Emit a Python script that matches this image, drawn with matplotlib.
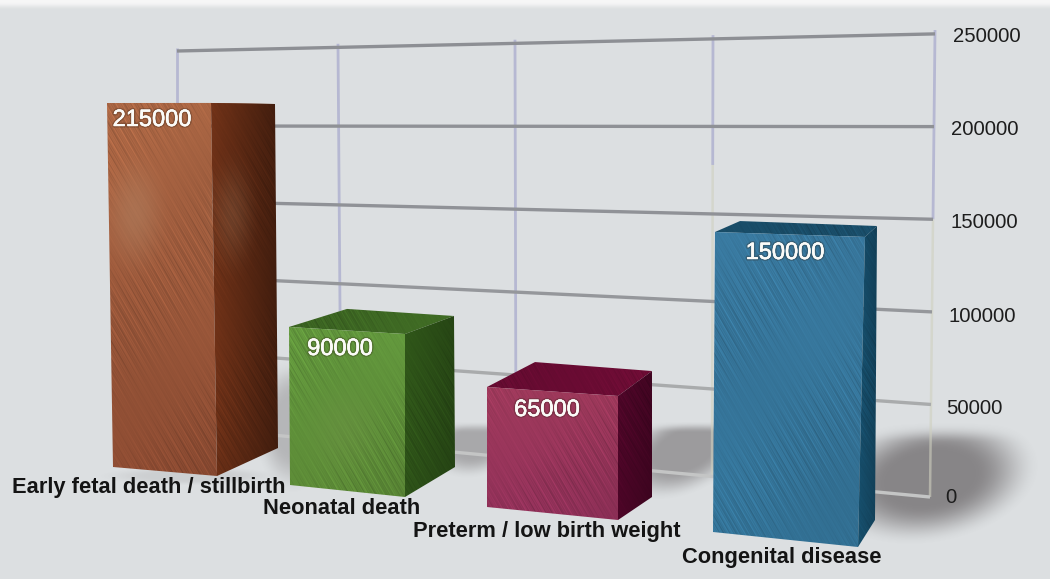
import numpy as np
import matplotlib
matplotlib.use("Agg")
import matplotlib.pyplot as plt
from matplotlib.patches import Polygon
from matplotlib.colors import to_rgb
import matplotlib.patheffects as pe

# ---- data
categories = ["Early fetal death / stillbirth", "Neonatal death",
              "Preterm / low birth weight", "Congenital disease"]
values = [215000, 90000, 65000, 150000]
axis_ticks = [0, 50000, 100000, 150000, 200000, 250000]

# ---- perspective layout (pixels): floor corners and pixels-per-unit at each corner
W, H = 1050, 579
floor_left = [(113, 467), (290, 485), (487, 507), (713, 532)]
floor_corner = [(217, 476), (405, 497), (618, 520), (858, 547)]
floor_right = [(278, 448), (455, 467), (652, 497), (875, 520)]
scale_left = [1.693e-3, 1.756e-3, 1.846e-3, 2.0e-3]
scale_corner = [1.735e-3, 1.811e-3, 1.908e-3, 2.067e-3]
scale_right = [1.6e-3, 1.678e-3, 1.938e-3, 1.96e-3]
lean = [(-6, -6, -3), (-1, 0, -1), (0, 0, 0), (2, 7, 2)]
back_dx = [0, 9, 14, 13]
front_top = ["#ad6845", "#649a3e", "#a03a5c", "#39799f"]
front_bot = ["#8c4b32", "#5b8836", "#8f3058", "#337296"]
side_col = ["#703218", "#2f5519", "#4e0628", "#17506e"]
side_dark = [0.58, 0.8, 0.8, 0.8]
top_col = ["#7a3f22", "#3f6a24", "#6c0c34", "#1a4f6b"]
value_pos = [(152, 120), (340, 349), (547, 410), (785, 253)]
cat_pos = [(12, 487), (263, 509), (413, 531), (682, 558)]
wall_x_top = [177, 338, 515, 713, 935]
wall_x_bot = [177, 341, 516, 712, 930]
wall_split = [None, None, None, 178000, 150000]
tick_x = [945, 946, 949, 950, 951, 953]
tick_y = [497.5, 408.5, 316.5, 222.5, 129.5, 36.5]
line_cols = ["#c4c5c5", "#a9abac", "#95979b", "#909297", "#8f9196", "#8d8f94"]
shadows = [(293, 425, 40, 70, 0, 0.30, 350, 30), (475, 442, 50, 36, 15, 0.40, 421, 12),
           (685, 450, 75, 44, 25, 0.50, 421, 12), (930, 478, 112, 66, 10, 0.66, 421, 22),
           (190, 476, 95, 10, 0, 0.12, 421, 1)]
patches_light = [(0, 135, 215, 38, 70, 0.26), (0, 232, 215, 30, 70, 0.18),
                 (1, 345, 430, 50, 60, 0.06), (2, 555, 480, 50, 30, -0.08)]

plt.rcParams["font.family"] = ["Liberation Sans", "DejaVu Sans"]
fig = plt.figure(figsize=(W / 100, H / 100), dpi=100)
ax = fig.add_axes([0, 0, 1, 1])
ax.set_axis_off()

yy, xx = np.mgrid[0:H, 0:W] + 0.5


def smooth(a):
    a = np.clip(a, 0, 1)
    return a * a * (3 - 2 * a)


# ---- background
bg = np.ones((H, W, 3)) * np.array(to_rgb("#dcdfe1"))
bg += (smooth((10 - yy) / 8)[..., None]) * (np.array([0.965, 0.965, 0.965]) - np.array(to_rgb("#dcdfe1")))
ax.imshow(bg, extent=(0, W, H, 0), aspect="auto", zorder=0, interpolation="bilinear")

# ---- soft floor shadows
alpha = np.zeros((H, W))
for cx, cy, rx, ry, ang, a, ycut, ramp in shadows:
    t = np.radians(ang)
    dx = xx - cx
    dy = yy - cy
    u = dx * np.cos(t) - dy * np.sin(t)
    v = dx * np.sin(t) + dy * np.cos(t)
    r = np.sqrt((u / rx) ** 2 + (v / ry) ** 2)
    s = a * smooth((1 - r) / 0.6) * smooth((yy - ycut) / ramp)
    alpha = 1 - (1 - alpha) * (1 - s)
rgba = np.zeros((H, W, 4))
rgba[..., :3] = to_rgb("#5c5759")
rgba[..., 3] = alpha
ax.imshow(rgba, extent=(0, W, H, 0), aspect="auto", zorder=1, interpolation="bilinear")


# ---- back wall grid
def wall_y(x, v):
    left = 426 - v * 0.0015
    right = 497 - v * 0.001852
    f = (x - 177) / (930 - 177)
    return left + (right - left) * f


def wall_x(i, v):
    f = v / max(axis_ticks)
    return wall_x_bot[i] + (wall_x_top[i] - wall_x_bot[i]) * f


top_val = max(axis_ticks)
for i in range(len(wall_x_top)):
    sp = wall_split[i]
    vtop = top_val * 1.004
    if sp is None:
        ax.plot([wall_x(i, 0), wall_x(i, vtop)],
                [wall_y(wall_x(i, 0), 0), wall_y(wall_x(i, vtop), vtop) - 2],
                color="#b6b8d2", lw=2.0, zorder=2, solid_capstyle="butt")
    else:
        ax.plot([wall_x(i, sp), wall_x(i, vtop)],
                [wall_y(wall_x(i, sp), sp), wall_y(wall_x(i, vtop), vtop) - 2],
                color="#b6b8d2", lw=2.0, zorder=2, solid_capstyle="butt")
        ax.plot([wall_x(i, 0), wall_x(i, sp)],
                [wall_y(wall_x(i, 0), 0), wall_y(wall_x(i, sp), sp)],
                color="#cfd0bf", lw=1.8, alpha=0.6, zorder=2, solid_capstyle="butt")

for k, v in enumerate(axis_ticks):
    x0, x1 = wall_x(0, v), wall_x(4, v)
    ax.plot([x0, x1], [wall_y(x0, v), wall_y(x1, v)], color=line_cols[k],
            lw=2.4, zorder=3, solid_capstyle="butt")
    ax.text(tick_x[k], tick_y[k], f"{v}", fontsize=14.6, color="#1d1d1d",
            ha="left", va="center", zorder=8)


# ---- textured bars
def texture(x, y):
    u = 0.87 * x - 0.5 * y
    w = 0.5 * x + 0.87 * y
    t = (0.045 * np.sin(u * 1.31 + 0.7 * np.sin(w * 0.021))
         + 0.04 * np.sin(u * 2.17 + 1.9 + 0.9 * np.sin(w * 0.017))
         + 0.035 * np.sin(u * 0.53 + 0.4 + 0.6 * np.sin(w * 0.031))
         + 0.03 * np.sin(u * 3.61 + 0.8))
    t *= 0.7 + 0.45 * np.sin(w * 0.043 + u * 0.011)
    t += 0.025 * np.sin(x * 0.031 + 1) * np.sin(y * 0.023)
    return t


def face(poly, c_top, c_bot, shade_l, shade_r, idx, z):
    poly = np.array(poly, float)
    x0, x1 = np.floor(poly[:, 0].min()), np.ceil(poly[:, 0].max())
    y0, y1 = np.floor(poly[:, 1].min()), np.ceil(poly[:, 1].max())
    ys, xs = np.mgrid[y0:y1, x0:x1] + 0.5
    fy = ((ys - y0) / max(y1 - y0, 1))[..., None]
    fx = ((xs - x0) / max(x1 - x0, 1))[..., None]
    col = np.array(to_rgb(c_top)) * (1 - fy) + np.array(to_rgb(c_bot)) * fy
    col = col * (shade_l + (shade_r - shade_l) * fx)
    col = col * (1 + 0.85 * texture(xs, ys))[..., None]
    for j, cx, cy, rx, ry, amt in patches_light:
        if j == idx:
            d = np.sqrt(((xs - cx) / rx) ** 2 + ((ys - cy) / ry) ** 2)
            m = (smooth(1 - d) * abs(amt))[..., None]
            target = np.array([0.72, 0.62, 0.50]) if amt > 0 else col * 0.7
            col = col * (1 - m) + target * m
    im = ax.imshow(np.clip(col, 0, 1), extent=(x0, x1, y1, y0), aspect="auto",
                   zorder=z, interpolation="bilinear")
    p = Polygon(poly, closed=True, transform=ax.transData, facecolor="none",
                edgecolor="none")
    ax.add_patch(p)
    im.set_clip_path(p)


for i, val in enumerate(values):
    z = 4 + i * 0.01
    dl, dc, dr = lean[i]
    fl, fc, fr = floor_left[i], floor_corner[i], floor_right[i]
    tl = (fl[0] + dl, fl[1] - val * scale_left[i])
    tc = (fc[0] + dc, fc[1] - val * scale_corner[i])
    tr = (fr[0] + dr, fr[1] - val * scale_right[i])
    tb = (tl[0] + tr[0] - tc[0] + back_dx[i], tl[1] + tr[1] - tc[1])
    face([tl, tb, tr, tc], top_col[i], top_col[i], 0.95, 1.0, i, z)
    face([tl, tc, fc, fl], front_top[i], front_bot[i], 1.0, 0.98, i, z + 0.001)
    face([tc, tr, fr, fc], side_col[i], side_col[i], 1.0, side_dark[i], i, z + 0.002)
    ax.text(value_pos[i][0], value_pos[i][1], f"{val}", fontsize=17, color="#fbfbf8",
            ha="center", va="center", zorder=9,
            path_effects=[pe.withStroke(linewidth=2.4, foreground=(0.2, 0.15, 0.1, 0.28)),
                          pe.withStroke(linewidth=0.3, foreground="#fbfbf8")])
    ax.text(cat_pos[i][0], cat_pos[i][1], categories[i], fontsize=15.75, color="#141414",
            fontweight="bold", ha="left", va="center", zorder=9)

ax.set_xlim(0, W)
ax.set_ylim(H, 0)
fig.savefig("out.png", dpi=100)
